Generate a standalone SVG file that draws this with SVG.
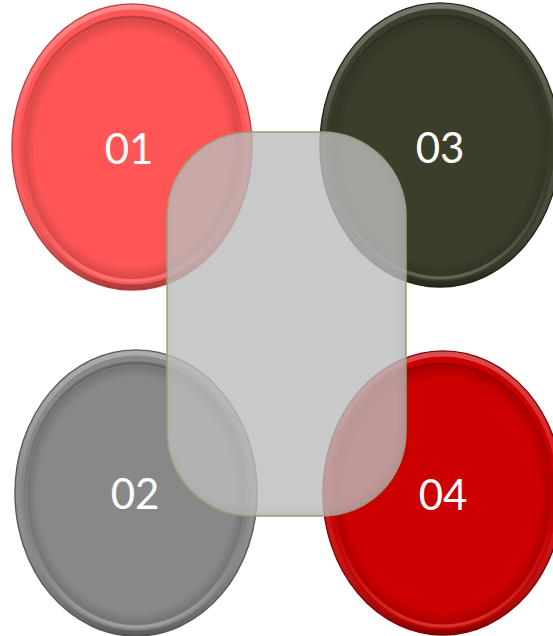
<svg xmlns="http://www.w3.org/2000/svg" width="553" height="636" viewBox="0 0 553 636">
  <style>
    .lbl { font-family: Lato, "Liberation Sans", sans-serif; font-size: 42px; fill: #ffffff; text-anchor: middle; }
    .rimHi { fill: none; stroke: url(#rimGrad); stroke-width: 5; }
    .inner { fill: none; stroke: url(#innerGrad); stroke-width: 3; }
    .shade { fill: url(#shadeGrad); }
  </style>
  <defs>
    <linearGradient id="rimGrad" x1="0" y1="0" x2="0" y2="1">
      <stop offset="0" stop-color="#ffffff" stop-opacity="0.3"/>
      <stop offset="0.5" stop-color="#ffffff" stop-opacity="0.05"/>
      <stop offset="1" stop-color="#000000" stop-opacity="0.3"/>
    </linearGradient>
    <linearGradient id="innerGrad" x1="0" y1="0" x2="0" y2="1">
      <stop offset="0" stop-color="#000000" stop-opacity="0.25"/>
      <stop offset="0.5" stop-color="#000000" stop-opacity="0.08"/>
      <stop offset="1" stop-color="#ffffff" stop-opacity="0.2"/>
    </linearGradient>
    <radialGradient id="shadeGrad" cx="0.5" cy="0.5" r="0.5">
      <stop offset="0.9" stop-color="#000000" stop-opacity="0"/>
      <stop offset="1" stop-color="#000000" stop-opacity="0.15"/>
    </radialGradient>
    <filter id="innerShadow" x="-10%" y="-10%" width="120%" height="120%">
      <feGaussianBlur in="SourceAlpha" stdDeviation="5" result="b"/>
      <feOffset in="b" dx="-3" dy="-4" result="o"/>
      <feComposite in="SourceAlpha" in2="o" operator="out" result="ring"/>
      <feFlood flood-color="#000000" flood-opacity="0.2"/>
      <feComposite in2="ring" operator="in" result="sh"/>
      <feMerge><feMergeNode in="SourceGraphic"/><feMergeNode in="sh"/></feMerge>
    </filter>
  </defs>

  <g id="node-01">
    <ellipse cx="132" cy="147" rx="120" ry="143" fill="#ff5555" stroke="#c04040" stroke-width="1.5"/>
    <ellipse cx="132" cy="147" rx="117" ry="140" class="rimHi"/>
    <ellipse cx="132" cy="149" rx="110" ry="132" class="inner"/>
    <ellipse cx="132" cy="149" rx="108" ry="130" class="shade"/>
    <text class="lbl" x="129" y="164">01</text>
  </g>

  <g id="node-03">
    <ellipse cx="440" cy="145" rx="120" ry="142" fill="#3c3e2c" stroke="#23241a" stroke-width="1.5"/>
    <ellipse cx="440" cy="145" rx="117" ry="139" class="rimHi"/>
    <ellipse cx="440" cy="147" rx="110" ry="131" class="inner"/>
    <ellipse cx="440" cy="147" rx="108" ry="129" class="shade"/>
    <text class="lbl" x="440" y="163">03</text>
  </g>

  <g id="node-02">
    <ellipse cx="136" cy="493" rx="121" ry="143" fill="#888888" stroke="#5a5a5a" stroke-width="1.5"/>
    <ellipse cx="136" cy="493" rx="118" ry="140" class="rimHi"/>
    <ellipse cx="136" cy="495" rx="111" ry="132" class="inner"/>
    <ellipse cx="136" cy="495" rx="109" ry="130" class="shade"/>
    <text class="lbl" x="135" y="509">02</text>
  </g>

  <g id="node-04">
    <ellipse cx="443" cy="493" rx="120" ry="142" fill="#cc0000" stroke="#8a0000" stroke-width="1.5"/>
    <ellipse cx="443" cy="493" rx="117" ry="139" class="rimHi"/>
    <ellipse cx="443" cy="495" rx="110" ry="131" class="inner"/>
    <ellipse cx="443" cy="495" rx="108" ry="129" class="shade"/>
    <text class="lbl" x="443" y="510">04</text>
  </g>

  <g id="panel">
    <rect x="167" y="132" width="239" height="384" rx="84" ry="84" fill="#bfbfbf" fill-opacity="0.8" filter="url(#innerShadow)"/>
    <rect x="167" y="132" width="239" height="384" rx="84" ry="84" fill="none" stroke="#a09a78" stroke-width="1.5"/>
  </g>

  <g id="connectors"/>
</svg>
